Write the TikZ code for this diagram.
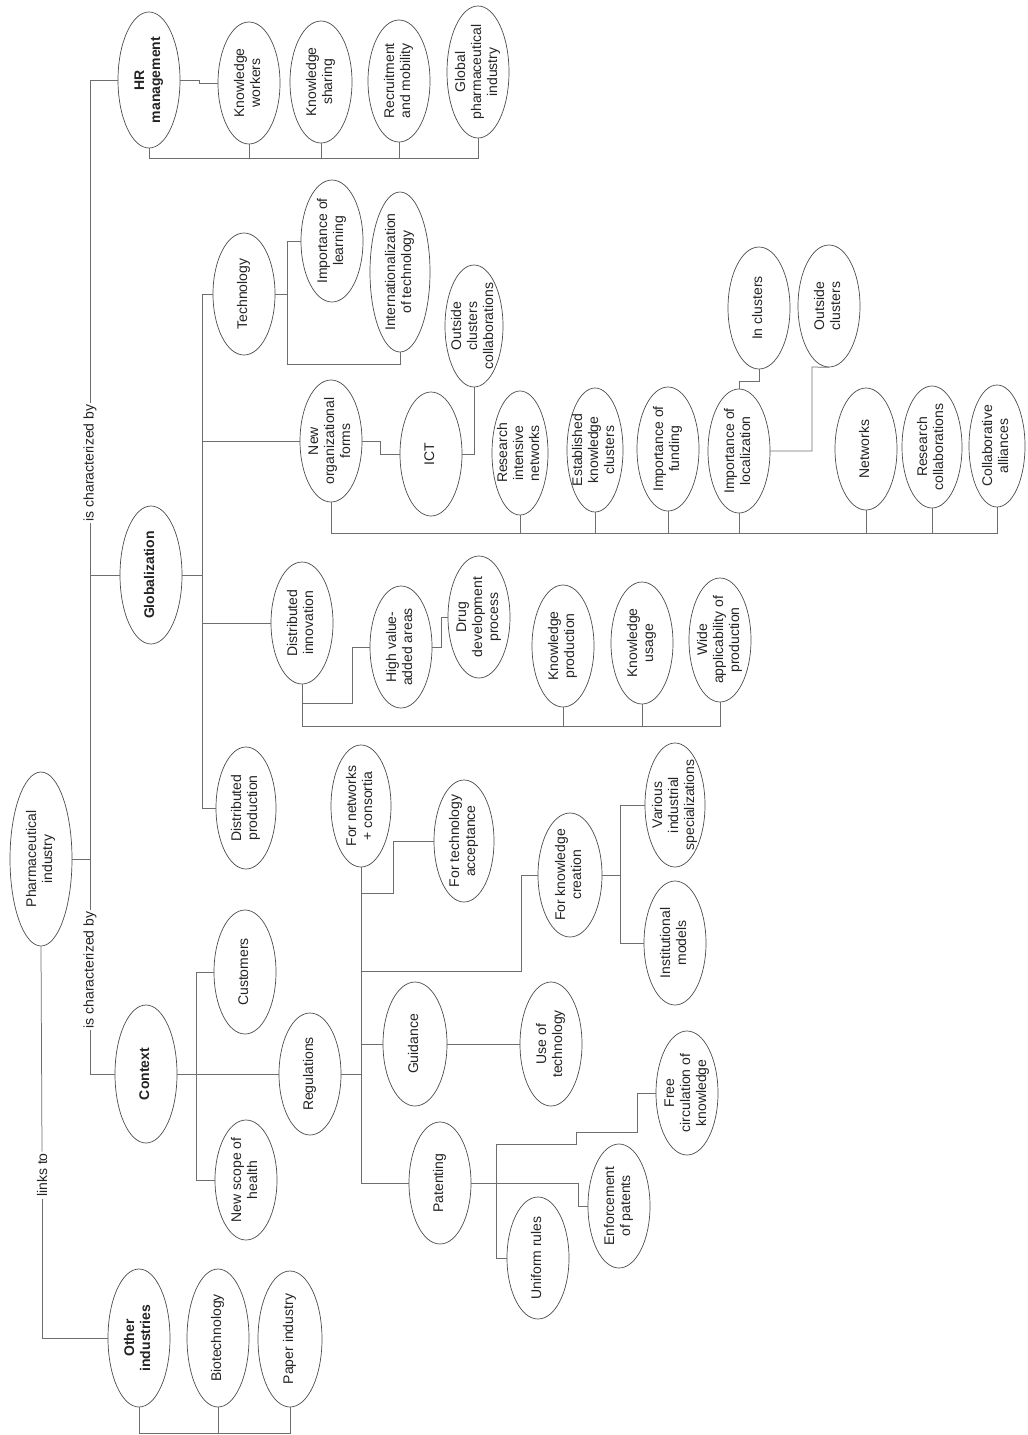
\documentclass[tikz,border=0pt]{standalone}
\usepackage{fontspec}
\setmainfont{Liberation Sans}
\usetikzlibrary{shapes.geometric}
\definecolor{elcol}{RGB}{75,75,75}
\definecolor{lncol}{RGB}{110,110,110}
\definecolor{txtcol}{RGB}{35,35,35}
\newcommand{\ltxt}[1]{\makebox[0pt]{\smash{\raisebox{-0.25em}{\begin{tabular}{@{}c@{}}#1\end{tabular}}}}}
\newcommand{\mkel}[7]{\node[el,minimum width=#5pt,minimum height=#4pt,#7] (#1) at (#2,#3) {\ltxt{#6}};}
\tikzset{
  el/.style={ellipse, draw=elcol, line width=0.7pt, inner sep=0pt, rotate=90, text=txtcol, font=\fontsize{14}{16}\selectfont},
  lk/.style={draw=lncol, line width=0.75pt},
  lab/.style={rotate=90, fill=white, inner sep=1.5pt, text=txtcol, font=\fontsize{14}{16}\selectfont},
  bf/.style={font=\fontsize{14}{16}\selectfont\bfseries}
}
\begin{document}
\begin{tikzpicture}[x=1pt,y=-1pt]
\useasboundingbox (0,0) rectangle (1028,1435);
% HR branch
\mkel{hr}{149}{80}{62}{136}{HR\\management}{bf}
\mkel{kw}{249}{83}{62}{122}{Knowledge\\workers}{}
\mkel{ks}{321}{82}{62}{122}{Knowledge\\sharing}{}
\mkel{rm}{399}{81}{62}{122}{Recruitment\\and mobility}{}
\mkel{gpi}{478}{72}{62}{132}{Global\\pharmaceutical\\industry}{}
% Technology
\mkel{tech}{244}{294}{62}{122}{Technology}{}
\mkel{iol}{332}{241}{62}{122}{Importance of\\learning}{}
\mkel{iot}{400}{272}{60}{160}{Internationalization\\of technology}{}
\mkel{ocol}{474}{326}{58}{122}{Outside\\clusters\\collaborations}{}
% Globalization
\mkel{glob}{151}{575}{62}{138}{Globalization}{bf}
\mkel{nof}{331}{441}{62}{122}{New\\organizational\\forms}{}
\mkel{ict}{431}{454}{62}{124}{ICT}{}
\mkel{rin}{520}{453}{56}{124}{Research\\intensive\\networks}{}
\mkel{ekc}{595}{450}{56}{124}{Established\\knowledge\\clusters}{}
\mkel{ifund}{668}{449}{62}{124}{Importance of\\funding}{}
\mkel{iloc}{739}{451}{62}{124}{Importance of\\localization}{}
\mkel{incl}{759}{308}{62}{122}{In clusters}{}
\mkel{ocl}{829}{306}{62}{122}{Outside\\clusters}{}
\mkel{netw}{866}{449}{62}{122}{Networks}{}
\mkel{rcol}{932}{447}{60}{122}{Research\\collaborations}{}
\mkel{calli}{997}{446}{56}{122}{Collaborative\\alliances}{}
\mkel{dinn}{302}{623}{62}{122}{Distributed\\innovation}{}
\mkel{hva}{401}{647}{62}{122}{High value-\\added areas}{}
\mkel{ddp}{479}{617}{62}{122}{Drug\\development\\process}{}
\mkel{kprod}{563}{646}{62}{122}{Knowledge\\production}{}
\mkel{kuse}{642}{643}{62}{122}{Knowledge\\usage}{}
\mkel{wap}{720}{640}{62}{124}{Wide\\applicability of\\production}{}
\mkel{dprod}{246}{808}{60}{122}{Distributed\\production}{}
% Root
\mkel{pharma}{41}{859}{62}{174}{Pharmaceutical\\industry}{}
% Context
\mkel{context}{146}{1074}{62}{138}{Context}{bf}
\mkel{cust}{245}{972}{62}{124}{Customers}{}
\mkel{nsh}{246}{1180}{62}{120}{New scope of\\health}{}
\mkel{regs}{310}{1074}{62}{122}{Regulations}{}
\mkel{fnc}{361}{806}{60}{122}{For networks\\+ consortia}{}
\mkel{fta}{464}{841}{60}{122}{For technology\\acceptance}{}
\mkel{fkc}{570}{875}{64}{124}{For knowledge\\creation}{}
\mkel{vis}{675}{805}{60}{124}{Various\\industrial\\specializations}{}
\mkel{inst}{675}{943}{62}{124}{Institutional\\models}{}
\mkel{guid}{415}{1044}{64}{124}{Guidance}{}
\mkel{uot}{551}{1044}{62}{124}{Use of\\technology}{}
\mkel{pat}{440}{1183}{62}{122}{Patenting}{}
\mkel{fcirc}{687}{1093}{62}{124}{Free\\circulation of\\knowledge}{}
\mkel{enf}{619}{1206}{62}{124}{Enforcement\\of patents}{}
\mkel{unif}{538}{1258}{62}{122}{Uniform rules}{}
% Other industries
\mkel{other}{139}{1338}{62}{138}{Other\\industries}{bf}
\mkel{bio}{218}{1338}{62}{138}{Biotechnology}{}
\mkel{paper}{290}{1339}{64}{136}{Paper industry}{}
% labels
\node[lab] (lab1) at (90,463) {is characterized by};
\node[lab] (lab2) at (90,970) {is characterized by};
\node[lab] (lab3) at (42,1175) {links to};
% bus coordinates
\coordinate (hrbus) at (0,158);
\coordinate (nbus) at (0,533);
\coordinate (dbus) at (0,726);
\coordinate (obus) at (0,1433);
\coordinate (oc1) at (812,367);
% trunk
\draw[lk] (pharma.south) -- (90,859);
\draw[lk] (90,859) -- (lab1.west);
\draw[lk] (lab1.east) |- (hr.north);
\draw[lk] (90,575) -- (glob.north);
\draw[lk] (90,859) -- (lab2.east);
\draw[lk] (lab2.west) |- (context.north);
\draw[lk] (pharma.west) -- (lab3.east);
\draw[lk] (lab3.west) |- (other.north);
% HR
\draw[lk] (hr.south) -| (199,83) -- (kw.north);
\draw[lk] (hr.west) -- (hr.west |- hrbus) -- (gpi.west |- hrbus) -- (gpi.west);
\draw[lk] (kw.west) -- (kw.west |- hrbus);
\draw[lk] (ks.west) -- (ks.west |- hrbus);
\draw[lk] (rm.west) -- (rm.west |- hrbus);
% Globalization
\draw[lk] (glob.south) -- (202,575);
\draw[lk] (tech.north) -- (202,294) -- (202,808) -- (dprod.north);
\draw[lk] (202,441) -- (nof.north);
\draw[lk] (202,623) -- (dinn.north);
\draw[lk] (tech.south) -- (287,294);
\draw[lk] (iol.north) -- (287,241) -- (287,364) -| (iot.west);
\draw[lk] (nof.south) -| (380,454) -- (ict.north);
\draw[lk] (ict.south) -| (ocol.west);
\draw[lk] (nof.west) -- (nof.west |- nbus) -- (calli.west |- nbus) -- (calli.west);
\draw[lk] (rin.west) -- (rin.west |- nbus);
\draw[lk] (ekc.west) -- (ekc.west |- nbus);
\draw[lk] (ifund.west) -- (ifund.west |- nbus);
\draw[lk] (iloc.west) -- (iloc.west |- nbus);
\draw[lk] (netw.west) -- (netw.west |- nbus);
\draw[lk] (rcol.west) -- (rcol.west |- nbus);
\draw[lk] (iloc.east) -- ++(0,-7) -| (incl.west);
\draw[lk] (iloc.south) -| (oc1) -- (ocl.west);
\draw[lk] (dinn.west) -- (dinn.west |- dbus) -| (wap.west);
\draw[lk] (302,703) -| (352,647) -- (hva.north);
\draw[lk] (hva.south) -| (441,617) -- (ddp.north);
\draw[lk] (kprod.west) -- (kprod.west |- dbus);
\draw[lk] (kuse.west) -- (kuse.west |- dbus);
% Context
\draw[lk] (context.south) -- (regs.north);
\draw[lk] (cust.north) -- (196,972) -- (196,1180) -- (nsh.north);
\draw[lk] (regs.south) -- (361,1074);
\draw[lk] (fnc.west) -- (361,1183) -- (pat.north);
\draw[lk] (361,1044) -- (guid.north);
\draw[lk] (361,893) -| (393,841) -- (fta.north);
\draw[lk] (361,971) -| (521,875) -- (fkc.north);
\draw[lk] (fkc.south) -- (620,875);
\draw[lk] (vis.north) -- (620,805) -- (620,943) -- (inst.north);
\draw[lk] (guid.south) -- (uot.north);
\draw[lk] (pat.south) -- (578,1183) |- (enf.north);
\draw[lk] (496,1258) -- (unif.north);
\draw[lk] (496,1258) -- (496,1144) -- (576,1144) -- (576,1132) -- (637,1132) |- (fcirc.north);
% Other industries
\draw[lk] (other.west) -- (other.west |- obus) -- (paper.west |- obus) -- (paper.west);
\draw[lk] (bio.west) -- (bio.west |- obus);
\end{tikzpicture}
\end{document}
